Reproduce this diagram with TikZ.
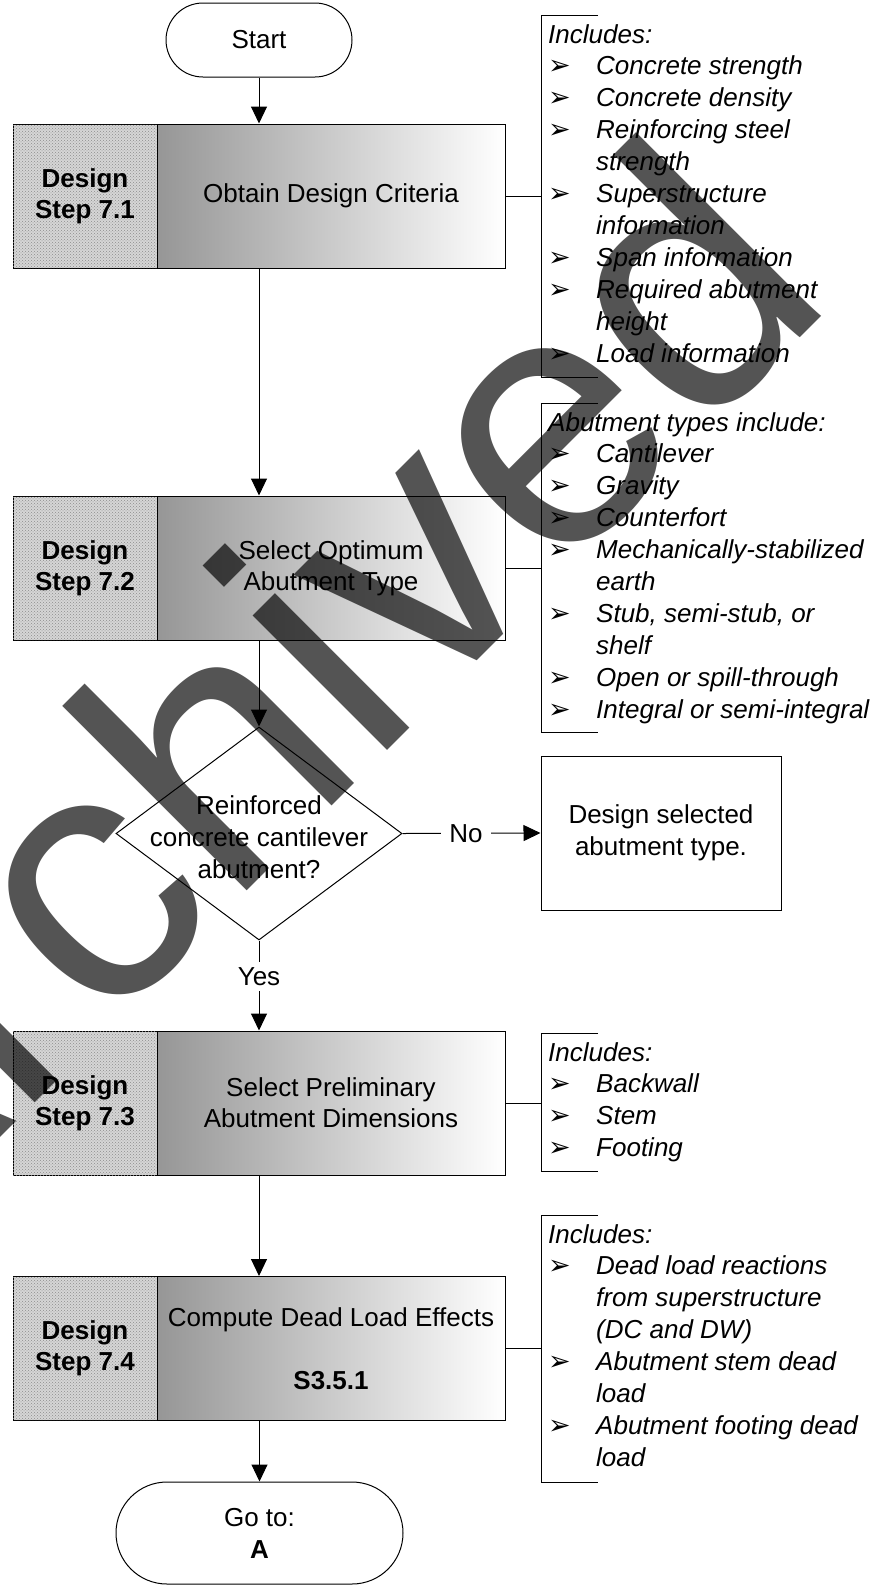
\documentclass[tikz,border=0pt]{standalone}
\usepackage{fontspec}
\setmainfont{Liberation Sans}
\newfontfamily\dingfont{DejaVu Sans}
\usetikzlibrary{arrows.meta,shapes.geometric,patterns}
\definecolor{texgray}{RGB}{214,214,214}
\definecolor{dotgray}{RGB}{140,140,140}
\definecolor{shadegray}{RGB}{150,150,150}
% list bullets and continuation lines for the side notes
\newcommand\bul{{\dingfont\upshape\fontsize{27}{27}\selectfont ➢}}
\newcommand\bi[1]{\makebox[48pt][l]{\bul}#1}
\newcommand\ci[1]{\hspace*{48pt}#1}

\begin{document}
\begin{tikzpicture}[x=1pt,y=-1pt,
  every node/.style={font=\fontsize{26}{31.9}\selectfont},
  lab/.style={draw, line width=1pt, fill=texgray,
    postaction={pattern=crosshatch dots, pattern color=dotgray},
    minimum width=144pt, minimum height=144pt, inner sep=0, align=center,
    font=\bfseries\fontsize{26}{31}\selectfont},
  task/.style={draw, line width=1pt, left color=shadegray, right color=white,
    minimum width=348pt, minimum height=144pt, inner sep=0, align=center,
    font=\fontsize{26}{31}\selectfont},
  term/.style={draw, line width=1pt, rounded corners=#1, inner sep=0, align=center},
  note/.style={anchor=base west, inner sep=0,
    font=\itshape\fontsize{26}{31.9}\selectfont},
  brace/.style={line width=1pt},
  link/.style={line width=1pt},
  arr/.style={line width=1pt, -{Triangle[length=17pt,width=16pt]}}
]
\useasboundingbox (0,0) rectangle (886,1585);

% terminals
\node[term=37pt, minimum width=186pt, minimum height=74pt] (start) at (259,40) {Start};
\node[term=51pt, minimum width=287pt, minimum height=102pt] (goto) at (259.5,1533) {Go to:\\\textbf{A}};

% design steps
\node[lab]  (l1) at (85,196)  {Design\\Step 7.1};
\node[task] (s1) at (331,196) {Obtain Design Criteria};
\node[lab]  (l2) at (85,568)  {Design\\Step 7.2};
\node[task] (s2) at (331,568) {Select Optimum\\Abutment Type};
\node[lab]  (l3) at (85,1103) {Design\\Step 7.3};
\node[task] (s3) at (331,1103) {Select Preliminary\\Abutment Dimensions};
\node[lab]  (l4) at (85,1348.5) {Design\\Step 7.4};
\node[task] (s4) at (331,1348.5) {Compute Dead Load Effects\\[31.9pt]\textbf{S3.5.1}};

% decision
\node[draw, diamond, line width=1pt, minimum width=286pt, minimum height=213pt,
  inner sep=0] (dec) at (259,833.5) {};
\node[align=center, inner sep=0] (dect) at (259,837) {Reinforced\\concrete cantilever\\abutment?};
\node[draw, line width=1pt, minimum width=240pt, minimum height=154pt, align=center]
  (alt) at (661,833) {Design selected\\abutment type.};

% flow
\draw[arr] (start.south) -- (start.south |- s1.north);
\draw[arr] (start.south |- s1.south) -- (start.south |- s2.north);
\draw[arr] (dec.north |- s2.south) -- (dec.north);
\draw[arr] (dec.east) -- node[pos=0.46, fill=white, inner xsep=8pt, inner ysep=2pt] (no) {No} (alt.west);
\draw[arr] (dec.south) -- node[pos=0.4, fill=white, inner sep=5pt] (yes) {Yes} (dec.south |- s3.north);
\draw[arr] (dec.south |- s3.south) -- (dec.south |- s4.north);
\draw[arr] (goto.north |- s4.south) -- (goto.north);

% side notes
\coordinate (b1) at (541,196);
\coordinate (b2) at (541,568);
\coordinate (b3) at (541,1103);
\coordinate (b4) at (541,1348.5);
\draw[link] (s1.east) -- (b1);
\draw[link] (s2.east) -- (b2);
\draw[link] (s3.east) -- (b3);
\draw[link] (s4.east) -- (b4);
\draw[brace] (598,15) -- (541,15) -- (541,377) -- (598,377);
\draw[brace] (598,403) -- (541,403) -- (541,732) -- (598,732);
\draw[brace] (598,1033) -- (541,1033) -- (541,1171) -- (598,1171);
\draw[brace] (598,1215) -- (541,1215) -- (541,1482) -- (598,1482);

\node[note] (n1) at (548,43) {\begin{tabular}[t]{@{}l@{}}
Includes:\\
\bi{Concrete strength}\\
\bi{Concrete density}\\
\bi{Reinforcing steel}\\
\ci{strength}\\
\bi{Superstructure}\\
\ci{information}\\
\bi{Span information}\\
\bi{Required abutment}\\
\ci{height}\\
\bi{Load information}
\end{tabular}};
\node[note] (n2) at (548,431) {\begin{tabular}[t]{@{}l@{}}
Abutment types include:\\
\bi{Cantilever}\\
\bi{Gravity}\\
\bi{Counterfort}\\
\bi{Mechanically-stabilized}\\
\ci{earth}\\
\bi{Stub, semi-stub, or}\\
\ci{shelf}\\
\bi{Open or spill-through}\\
\bi{Integral or semi-integral}
\end{tabular}};
\node[note] (n3) at (548,1061) {\begin{tabular}[t]{@{}l@{}}
Includes:\\
\bi{Backwall}\\
\bi{Stem}\\
\bi{Footing}
\end{tabular}};
\node[note] (n4) at (548,1243) {\begin{tabular}[t]{@{}l@{}}
Includes:\\
\bi{Dead load reactions}\\
\ci{from superstructure}\\
\ci{(DC and DW)}\\
\bi{Abutment stem dead}\\
\ci{load}\\
\bi{Abutment footing dead}\\
\ci{load}
\end{tabular}};

% archive stamp across the sheet
\node[rotate=45, anchor=base east, inner sep=0, text=black, text opacity=0.67,
  font=\fontsize{360}{360}\selectfont] (stamp) at (838,300) {Archived};
\end{tikzpicture}
\end{document}
